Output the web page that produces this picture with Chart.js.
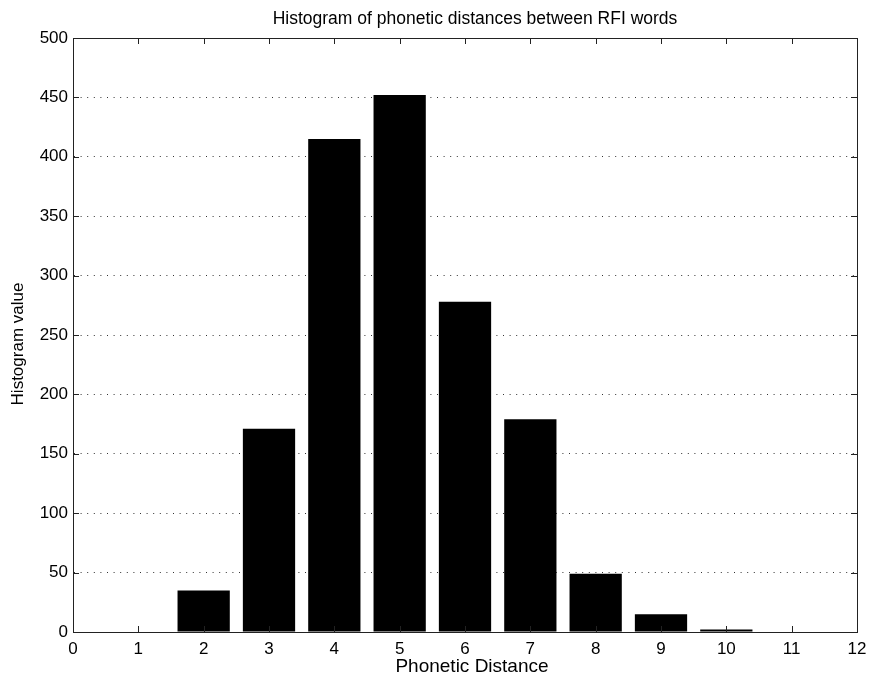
<!DOCTYPE html>
<html>
<head>
<meta charset="utf-8">
<script src="https://cdn.jsdelivr.net/npm/chart.js@4.4.1/dist/chart.umd.min.js"></script>
<style>
  html, body { margin: 0; padding: 0; background: #fff; }
  #wrap { width: 870px; height: 675px; }
</style>
</head>
<body>
<div id="wrap"><canvas id="grafico"></canvas></div>
<script>
const distancias = [1, 2, 3, 4, 5, 6, 7, 8, 9, 10, 11];
const conteos = [0, 35, 171, 415, 452, 278, 179, 49, 15, 2, 0];
const ticksX = [0, 1, 2, 3, 4, 5, 6, 7, 8, 9, 10, 11, 12];
const ticksY = [0, 50, 100, 150, 200, 250, 300, 350, 400, 450, 500];

const titulo = 'Histogram of phonetic distances between RFI words';
const tituloX = 'Phonetic Distance';
const tituloY = 'Histogram value';

const FUENTE = "'Liberation Sans', Arial, Helvetica, sans-serif";

// marco, ticks hacia dentro y textos, estilo matlab
const marcoPlugin = {
  id: 'marco',
  afterDraw(chart) {
    const { ctx, chartArea: a, scales } = chart;
    ctx.save();
    ctx.strokeStyle = '#222';
    ctx.lineWidth = 1;
    ctx.strokeRect(a.left + 0.5, a.top + 0.5, a.right - a.left, a.bottom - a.top);
    ctx.beginPath();
    ticksX.forEach(v => {
      const x = Math.round(scales.x.getPixelForValue(v)) + 0.5;
      ctx.moveTo(x, a.bottom); ctx.lineTo(x, a.bottom - 6);
      ctx.moveTo(x, a.top); ctx.lineTo(x, a.top + 6);
    });
    ticksY.forEach(v => {
      const y = Math.round(scales.y.getPixelForValue(v)) + 0.5;
      ctx.moveTo(a.left, y); ctx.lineTo(a.left + 6, y);
      ctx.moveTo(a.right, y); ctx.lineTo(a.right - 6, y);
    });
    ctx.stroke();

    const cx = (a.left + a.right) / 2;
    const cy = (a.top + a.bottom) / 2;
    ctx.fillStyle = '#000';
    ctx.textAlign = 'center';
    ctx.textBaseline = 'middle';
    ctx.font = '17.5px ' + FUENTE;
    ctx.fillText(titulo, cx + 10, 19);
    ctx.font = '19px ' + FUENTE;
    ctx.fillText(tituloX, cx + 7, 667);
    ctx.translate(18, cy + 9);
    ctx.rotate(-Math.PI / 2);
    ctx.font = '17px ' + FUENTE;
    ctx.fillText(tituloY, 0, 0);
    ctx.restore();
  }
};

new Chart(document.getElementById('grafico'), {
  type: 'bar',
  data: {
    datasets: [{
      data: distancias.map((d, i) => ({ x: d, y: conteos[i] })),
      backgroundColor: '#000',
      borderColor: '#000',
      borderWidth: 0,
      barPercentage: 0.8,
      categoryPercentage: 1.0
    }]
  },
  options: {
    responsive: true,
    maintainAspectRatio: false,
    animation: false,
    layout: { padding: { left: 0, right: 13, top: 38, bottom: 0 } },
    plugins: {
      legend: { display: false },
      tooltip: { enabled: false },
      title: { display: false }
    },
    scales: {
      x: {
        type: 'linear',
        min: 0,
        max: 12,
        offset: false,
        afterBuildTicks: s => { s.ticks = ticksX.map(v => ({ value: v })); },
        afterFit: s => { s.height = 43; s.paddingLeft = 0; s.paddingRight = 0; },
        grid: { display: false, drawTicks: false },
        border: { display: true, color: '#222' },
        ticks: { color: '#000', padding: 7, font: { family: FUENTE, size: 17 } }
      },
      y: {
        min: 0,
        max: 500,
        afterBuildTicks: s => { s.ticks = ticksY.map(v => ({ value: v })); },
        afterFit: s => { s.width = 73; s.paddingTop = 0; s.paddingBottom = 0; },
        grid: {
          drawTicks: false,
          color: c => (c.tick && (c.tick.value === 0 || c.tick.value === 500)) ? 'rgba(0,0,0,0)' : '#333',
          lineWidth: 1
        },
        border: { display: true, color: '#222', dash: [1, 5.6] },
        ticks: { color: '#000', padding: 5, font: { family: FUENTE, size: 17 } }
      }
    }
  },
  plugins: [marcoPlugin]
});
</script>
</body>
</html>
